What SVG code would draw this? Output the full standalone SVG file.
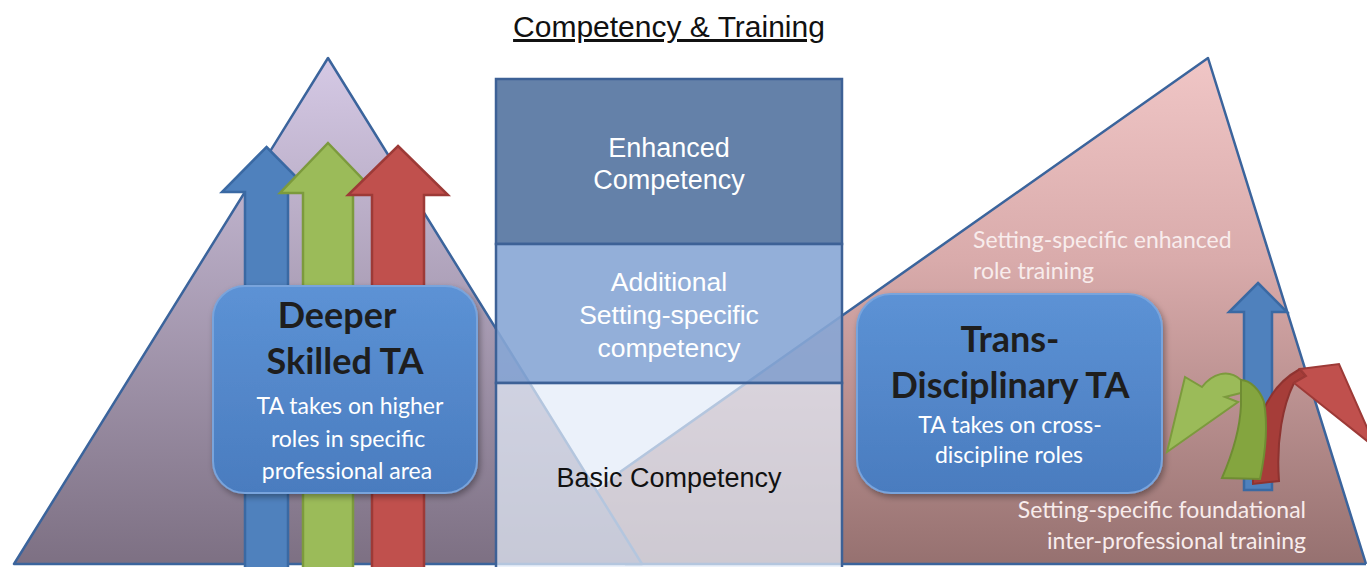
<svg xmlns="http://www.w3.org/2000/svg" width="1367" height="567" viewBox="0 0 1367 567">
<style>
.edge{stroke:#3b649c;stroke-width:2.5;stroke-linejoin:round}
.sec{stroke:#3d6196;stroke-width:2.5}
.arial{font-family:"Liberation Sans",Arial,sans-serif}
.boxtitle{font-family:Lato,"Open Sans",sans-serif;font-weight:bold;font-size:36px;fill:#1e1e1e;text-anchor:middle}
.boxsub{font-family:Lato,"Open Sans",sans-serif;font-size:23px;fill:#ffffff;text-anchor:middle}
.pinktext{font-family:Lato,"Open Sans",sans-serif;font-size:23px;fill:#f8ecec}
.box{fill:url(#boxg);stroke:#79a4dc;stroke-width:2;filter:url(#shadow)}
</style>
<defs>
<linearGradient id="lg" x1="0" y1="58" x2="0" y2="564" gradientUnits="userSpaceOnUse">
<stop offset="0" stop-color="#d5c9e5"/>
<stop offset="1" stop-color="#7d7083"/>
</linearGradient>
<linearGradient id="rg" x1="0" y1="58" x2="0" y2="564" gradientUnits="userSpaceOnUse">
<stop offset="0" stop-color="#f0c6c6"/>
<stop offset="0.4" stop-color="#d9abab"/>
<stop offset="1" stop-color="#967170"/>
</linearGradient>
<linearGradient id="boxg" x1="0" y1="0" x2="0" y2="1">
<stop offset="0" stop-color="#5c92d5"/>
<stop offset="1" stop-color="#4a7cbf"/>
</linearGradient>
<filter id="shadow" x="-10%" y="-10%" width="125%" height="125%">
<feDropShadow dx="2" dy="3" stdDeviation="3" flood-color="#000" flood-opacity="0.35"/>
</filter>
</defs>
<rect width="1367" height="567" fill="#ffffff"/>

<text class="arial" x="669" y="37" font-size="30" text-anchor="middle" fill="#111" text-decoration="underline">Competency &amp; Training</text>

<g id="right-shape">
<polygon points="620,472 1208,58 1366,564 560,564 560,520" fill="url(#rg)"/>
<polyline points="620,472 1208,58 1366,564" fill="none" class="edge"/>
<line x1="625" y1="564" x2="1366" y2="564" class="edge"/>
</g>
<g id="left-triangle">
<polygon points="328,58 14,564 642,564" fill="url(#lg)" class="edge"/>
</g>

<g id="competency-column">
<rect x="496" y="79" width="346" height="165" fill="#6481a9" class="sec"/>
<rect x="496" y="244" width="346" height="139" fill="#87a6d5" fill-opacity="0.9" class="sec"/>
<rect x="496" y="383" width="346" height="190" fill="#e3ebf8" fill-opacity="0.72" class="sec"/>
<text class="arial" font-size="27" fill="#ffffff" text-anchor="middle"><tspan x="669" y="157">Enhanced</tspan><tspan x="669" y="189">Competency</tspan></text>
<text class="arial" font-size="26.5" fill="#ffffff" text-anchor="middle"><tspan x="669" y="291">Additional</tspan><tspan x="669" y="324">Setting-specific</tspan><tspan x="669" y="357">competency</tspan></text>
<text class="arial" font-size="27" fill="#111111" text-anchor="middle" x="669" y="487">Basic Competency</text>
</g>

<g id="left-arrows">
<polygon points="266.5,147 311,192 288,192 288,572 245,572 245,192 222,192" fill="#4f81bd" stroke="#3a69a3" stroke-width="2.5"/>
<polygon points="328,143 376,193 353,193 353,572 303,572 303,193 280,193" fill="#9bbb59" stroke="#7c9a3d" stroke-width="2.5"/>
<polygon points="398,146 448,195 424,195 424,572 372,572 372,195 348,195" fill="#c0504d" stroke="#9d3a37" stroke-width="2.5"/>
</g>

<g id="deeper-skilled-ta">
<rect x="213" y="286" width="264" height="207" rx="32" class="box"/>
<text class="boxtitle"><tspan x="337" y="328">Deeper</tspan><tspan x="345" y="374">Skilled TA</tspan></text>
<text class="boxsub"><tspan x="350" y="414">TA takes on higher</tspan><tspan x="348" y="447">roles in specific</tspan><tspan x="347" y="479">professional area</tspan></text>
</g>

<g id="trans-disciplinary-ta">
<rect x="857" y="294" width="305" height="199" rx="34" class="box"/>
<text class="boxtitle"><tspan x="1010" y="352">Trans-</tspan><tspan x="1010" y="398">Disciplinary TA</tspan></text>
<text class="boxsub"><tspan x="1010" y="433">TA takes on cross-</tspan><tspan x="1009" y="463">discipline roles</tspan></text>
</g>

<g id="right-arrows">
<polygon points="1258,283 1287,312 1272,312 1272,490 1244,490 1244,312 1229,312" fill="#4f81bd" stroke="#3a69a3" stroke-width="2.5"/>
<path d="M1253 484 C1252 430 1262 390 1300 369 L1306 376 L1294 383 C1283 405 1276 440 1279 481 Z" fill="#a63d39" stroke="#8e3330" stroke-width="2"/>
<path d="M1294 383 L1306 376 L1300 369 L1339 364 L1376 448 Z" fill="#c0504d" stroke="#9d3a37" stroke-width="2"/>
<path d="M1167 452 L1185 377 L1202 387 C1212 374 1228 368 1241 380 L1241 393 L1225 397 L1238 402 Z" fill="#9bbb59" stroke="#7c9a3d" stroke-width="2"/>
<path d="M1241 380 C1250 380 1260 390 1264 402 C1268 425 1265 455 1260 479 L1222 478 C1232 455 1240 430 1241 405 Z" fill="#84a53f" stroke="#6f8c33" stroke-width="2"/>
</g>

<g id="labels">
<text class="pinktext"><tspan x="973" y="248">Setting-specific enhanced</tspan><tspan x="973" y="279">role training</tspan></text>
<text class="pinktext" text-anchor="end"><tspan x="1306" y="518">Setting-specific foundational</tspan><tspan x="1306" y="549">inter-professional training</tspan></text>
</g>
</svg>
